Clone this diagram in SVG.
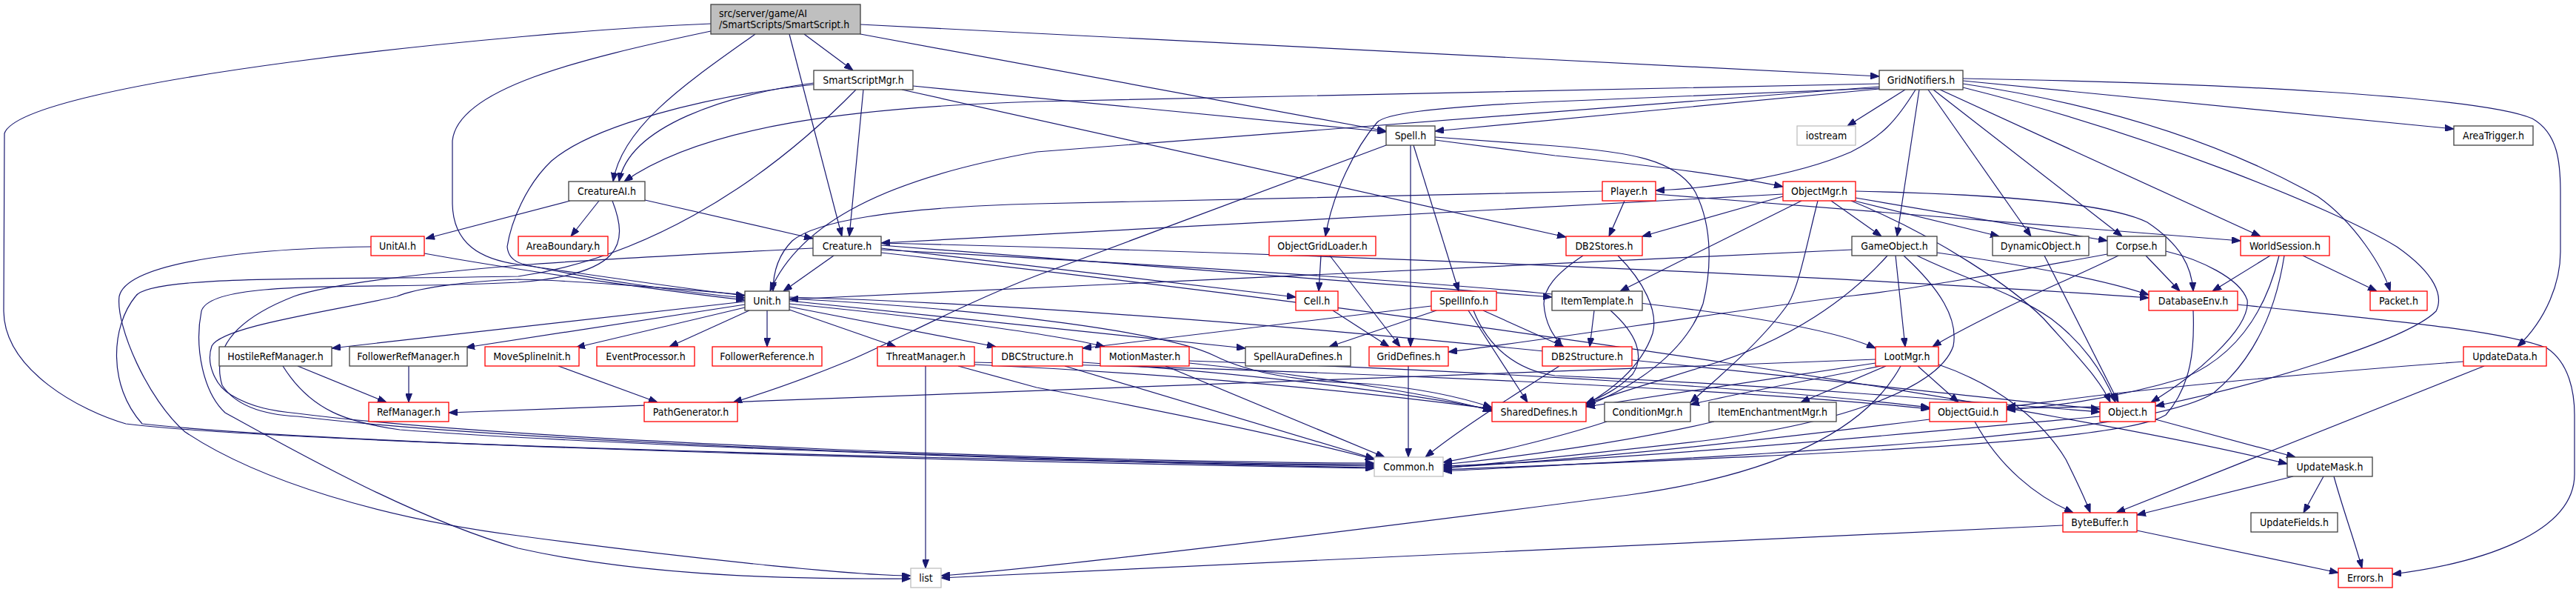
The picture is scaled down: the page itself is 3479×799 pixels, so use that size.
<svg xmlns="http://www.w3.org/2000/svg" width="3479" height="799" viewBox="0 0 3479 799">
<style>
.n rect{fill:#ffffff;stroke-width:1.3}
.b rect{stroke:#404040}
.r rect{stroke:#ff0000}
.g rect{stroke:#bfbfbf}
text{font-family:'DejaVu Sans Condensed','Liberation Sans',Arial,sans-serif;font-size:14px;fill:#000000;text-anchor:middle}
#edges path{fill:none;stroke:#191970;stroke-width:1.2;marker-end:url(#a)}
</style>
<defs>
<marker id="a" viewBox="0 0 12 9" refX="12" refY="4.5" markerWidth="12" markerHeight="9" markerUnits="userSpaceOnUse" orient="auto"><path d="M0,0 L12,4.5 L0,9 z" fill="#191970" stroke="#191970" stroke-width="1"/></marker>
</defs>
<rect width="3479" height="799" fill="#ffffff"/>
<g id="edges">
<path d="M960,32 C700,42 30,110 6,180 L5,420 C6,500 110,555 170,572 C420,602 1500,624 1856,629"/>
<path d="M960,42 C780,80 618,120 611,190 L611,275 C612,330 650,350 700,357 C820,374 940,392 1006,399"/>
<path d="M1020,46 C930,110 840,170 828,245"/>
<path d="M1066,46 L1137,319"/>
<path d="M1086,46 L1152,95"/>
<path d="M1162,33 L2538,103"/>
<path d="M1162,46 L1872,177"/>
<path d="M1099,112 C980,128 850,170 836,245"/>
<path d="M1099,114 C950,130 800,170 745,217 C710,250 690,300 685,333 C686,345 692,352 705,356 C800,378 940,396 1006,402"/>
<path d="M1166,121 L1147,319"/>
<path d="M1233,116 L1872,178"/>
<path d="M1218,121 L2115,320"/>
<path d="M1156,121 C1020,260 860,350 700,373 C450,378 200,370 183,400 C150,440 145,520 192,572 C500,605 1500,626 1856,632"/>
<path d="M770,271 L575,322"/>
<path d="M809,271 L771,319"/>
<path d="M871,270 L1098,322"/>
<path d="M827,271 C850,330 840,370 700,381 C500,392 285,375 272,420 C262,470 275,530 304,557 C400,610 560,700 700,740 C900,785 1150,781 1230,781"/>
<path d="M573,342 C700,365 900,393 1006,405"/>
<path d="M501,333 C300,336 170,360 161,400 C156,440 200,540 250,583 C350,650 520,700 700,723 C900,750 1150,777 1230,777"/>
<path d="M1098,335 C900,345 780,352 700,358 C560,370 440,385 397,400 C320,430 285,470 300,520 C320,550 360,560 402,562 C700,598 1500,626 1856,627"/>
<path d="M1006,398 C900,388 760,378 700,377 C620,380 560,390 536,400 C450,420 300,440 286,467 C278,490 290,520 312,533 C340,550 370,555 402,558 C700,596 1500,625 1856,625"/>
<path d="M1126,345 L1058,393"/>
<path d="M1190,335 L1750,401"/>
<path d="M1190,331 L2096,401"/>
<path d="M1190,337 C1900,375 2400,410 2533,470"/>
<path d="M1190,328 C1900,345 2600,380 2902,402"/>
<path d="M1190,341 C2000,430 2800,555 3089,626"/>
<path d="M1006,407 L448,470"/>
<path d="M1006,411 L629,469"/>
<path d="M1006,415 L778,469"/>
<path d="M1012,419 L904,468"/>
<path d="M1036,419 L1036,468"/>
<path d="M1066,418 L1210,468"/>
<path d="M1066,414 L1345,468"/>
<path d="M1066,410 C1250,428 1420,450 1492,468"/>
<path d="M1066,406 L1682,470"/>
<path d="M1066,403 C1350,418 1580,450 1640,480 C1690,505 1760,515 1846,518 C1930,525 1985,540 2015,550"/>
<path d="M1066,401 C1700,420 2450,515 2836,552"/>
<path d="M402,494 L522,543"/>
<path d="M382,494 C420,555 470,570 540,580 C800,600 1500,625 1856,631"/>
<path d="M552,494 L552,543"/>
<path d="M754,494 L888,543"/>
<path d="M1250,494 L1250,767"/>
<path d="M1294,494 L1400,523 C1600,560 1760,595 1856,620"/>
<path d="M1316,492 C1600,505 1850,530 2015,552"/>
<path d="M1316,489 C1800,500 2350,525 2606,552"/>
<path d="M1438,494 L1856,619"/>
<path d="M1462,489 C1700,505 1900,530 2015,553"/>
<path d="M1574,494 L1870,617"/>
<path d="M1606,490 C1800,510 1950,535 2015,555"/>
<path d="M1606,487 C2000,500 2400,525 2606,550"/>
<path d="M1872,196 L1400,372 C1300,410 1200,465 1146,487 C1090,510 1040,528 990,543"/>
<path d="M1905,196 L1905,468"/>
<path d="M1909,196 L1970,393"/>
<path d="M1938,189 L2100,210 C2250,225 2350,240 2408,252"/>
<path d="M1938,185 L2100,197 C2200,205 2265,215 2290,260 C2315,310 2310,370 2300,410 C2275,480 2200,525 2142,548"/>
<path d="M1940,419 L1795,468"/>
<path d="M1933,413 L1462,470"/>
<path d="M1983,419 L2063,543"/>
<path d="M2003,419 L2112,468"/>
<path d="M1990,419 C2010,470 2050,500 2100,507 C2400,520 2700,545 2836,556"/>
<path d="M1784,345 L1781,393"/>
<path d="M1796,345 L1891,468"/>
<path d="M1800,419 L1876,468"/>
<path d="M1902,494 L1902,617"/>
<path d="M2573,121 L2495,170"/>
<path d="M2587,121 C2560,165 2540,185 2500,205 C2420,240 2300,255 2236,257"/>
<path d="M2592,121 L2562,319"/>
<path d="M2604,121 L2743,319"/>
<path d="M2611,121 L2866,319"/>
<path d="M2620,121 L3053,319"/>
<path d="M2651,113 C2900,150 3050,220 3130,265 C3180,300 3218,360 3228,393"/>
<path d="M2651,118 C2900,180 3150,280 3237,333 C3290,370 3300,400 3290,420 C3250,460 3050,520 2911,548"/>
<path d="M2651,109 L3314,174"/>
<path d="M2651,106 C3000,112 3350,130 3420,160 C3455,180 3458,220 3458,260 L3458,340 C3458,380 3440,430 3400,468"/>
<path d="M2538,113 L1400,137 C1150,145 950,170 843,245"/>
<path d="M2538,117 L1400,205 C1200,240 1080,300 1040,393"/>
<path d="M2538,119 L2100,137 C1920,145 1870,155 1860,165 C1830,200 1800,260 1790,319"/>
<path d="M2538,120 C2300,142 2100,160 1938,177"/>
<path d="M2164,258 L1400,275 C1200,280 1100,300 1070,325 C1050,345 1044,370 1044,393"/>
<path d="M2194,271 L2173,319"/>
<path d="M2236,262 L3026,325"/>
<path d="M2408,262 L1190,328"/>
<path d="M2408,265 L2218,319"/>
<path d="M2473,271 L2541,319"/>
<path d="M2504,271 L2700,319"/>
<path d="M2506,267 L2846,325"/>
<path d="M2506,258 C2700,262 2850,275 2900,300 C2945,330 2960,360 2962,393"/>
<path d="M2433,271 L2188,393"/>
<path d="M2455,271 C2440,330 2430,385 2415,410 C2380,460 2320,510 2283,543"/>
<path d="M2500,271 C2620,320 2720,390 2760,430 C2800,475 2835,510 2850,543"/>
<path d="M2138,345 C2100,370 2085,390 2085,410 C2087,440 2100,455 2110,468"/>
<path d="M2185,345 C2220,380 2240,420 2232,450 C2215,500 2170,530 2142,546"/>
<path d="M2153,419 L2147,468"/>
<path d="M2175,419 C2210,450 2222,480 2205,505 C2185,525 2165,535 2142,544"/>
<path d="M2106,494 C2050,530 1970,580 1925,617"/>
<path d="M2501,337 L1066,404"/>
<path d="M2560,345 L2573,468"/>
<path d="M2589,345 C2650,375 2720,395 2770,430 C2810,460 2840,500 2857,543"/>
<path d="M2616,341 C2750,360 2850,380 2902,398"/>
<path d="M2549,345 C2500,400 2420,460 2300,495 C2220,520 2170,535 2142,545"/>
<path d="M2571,345 C2620,390 2645,430 2638,467 C2620,520 2500,570 2300,595 C2100,618 2000,627 1949,632"/>
<path d="M2761,345 L2861,543"/>
<path d="M2925,339 C2970,350 3025,375 3035,405 C3040,445 2960,510 2905,543"/>
<path d="M2898,345 L2944,393"/>
<path d="M2861,345 C2810,370 2750,395 2700,420 C2660,440 2630,455 2610,468"/>
<path d="M2846,343 C2700,370 2550,395 2493,400 C2300,425 2100,457 1956,475"/>
<path d="M3066,345 L2988,393"/>
<path d="M3110,345 L3210,393"/>
<path d="M3085,345 C3075,410 3050,480 2990,530 C2900,590 2400,612 1949,636"/>
<path d="M3078,345 C3060,420 3020,480 2950,510 C2850,540 2760,550 2710,553"/>
<path d="M2962,419 C2964,470 2960,520 2925,560 C2860,600 2400,615 1949,634"/>
<path d="M3022,411 C3200,430 3380,445 3440,470 C3470,490 3477,530 3477,560 L3477,640 C3477,720 3350,760 3231,775"/>
<path d="M2911,566 L3100,617"/>
<path d="M2836,562 C2500,592 2200,620 1949,629"/>
<path d="M2836,549 L2710,551"/>
<path d="M3327,488 C3100,505 2900,525 2800,538 C2760,543 2730,547 2710,549"/>
<path d="M3355,494 L2858,692"/>
<path d="M3097,643 L2886,695"/>
<path d="M3138,643 L3111,692"/>
<path d="M3152,643 C3165,690 3180,730 3190,767"/>
<path d="M2886,716 L3158,773"/>
<path d="M2786,709 L1271,780"/>
<path d="M2667,569 C2700,630 2750,670 2800,692"/>
<path d="M2606,566 C2400,592 2150,620 1949,631"/>
<path d="M2533,485 L606,557"/>
<path d="M2590,494 L2645,543"/>
<path d="M2533,490 L2142,549"/>
<path d="M2540,494 C2450,512 2350,530 2283,546"/>
<path d="M2547,494 L2432,543"/>
<path d="M2618,492 C2700,520 2760,570 2790,620 C2805,650 2815,670 2823,692"/>
<path d="M2567,494 C2520,580 2400,640 2200,668 C1800,720 1400,768 1271,777"/>
<path d="M2170,569 C2100,592 2000,615 1949,624"/>
<path d="M2315,569 C2200,596 2050,617 1949,627"/>
</g>
<g id="SmartScript" class="n b"><rect x="960" y="6" width="202" height="40" style="fill:#bfbfbf"/><text x="971" y="23" style="text-anchor:start">src/server/game/AI</text><text x="971" y="38" style="text-anchor:start">/SmartScripts/SmartScript.h</text></g>
<g id="SmartScriptMgr" class="n b"><rect x="1099" y="95" width="134" height="26"/><text x="1166" y="113">SmartScriptMgr.h</text></g>
<g id="GridNotifiers" class="n b"><rect x="2538" y="95" width="113" height="26"/><text x="2594.5" y="113">GridNotifiers.h</text></g>
<g id="Spell" class="n b"><rect x="1872" y="170" width="66" height="26"/><text x="1905" y="188">Spell.h</text></g>
<g id="iostream" class="n g"><rect x="2427" y="170" width="79" height="26"/><text x="2466.5" y="188">iostream</text></g>
<g id="AreaTrigger" class="n b"><rect x="3314" y="170" width="107" height="26"/><text x="3367.5" y="188">AreaTrigger.h</text></g>
<g id="CreatureAI" class="n b"><rect x="768" y="245" width="103" height="26"/><text x="819.5" y="263">CreatureAI.h</text></g>
<g id="Player" class="n r"><rect x="2164" y="245" width="72" height="26"/><text x="2200" y="263">Player.h</text></g>
<g id="ObjectMgr" class="n r"><rect x="2408" y="245" width="98" height="26"/><text x="2457" y="263">ObjectMgr.h</text></g>
<g id="UnitAI" class="n r"><rect x="501" y="319" width="72" height="26"/><text x="537" y="337">UnitAI.h</text></g>
<g id="AreaBoundary" class="n r"><rect x="700" y="319" width="121" height="26"/><text x="760.5" y="337">AreaBoundary.h</text></g>
<g id="Creature" class="n b"><rect x="1098" y="319" width="92" height="26"/><text x="1144" y="337">Creature.h</text></g>
<g id="ObjectGridLoader" class="n r"><rect x="1714" y="319" width="144" height="26"/><text x="1786" y="337">ObjectGridLoader.h</text></g>
<g id="DB2Stores" class="n r"><rect x="2115" y="319" width="103" height="26"/><text x="2166.5" y="337">DB2Stores.h</text></g>
<g id="GameObject" class="n b"><rect x="2501" y="319" width="115" height="26"/><text x="2558.5" y="337">GameObject.h</text></g>
<g id="DynamicObject" class="n b"><rect x="2691" y="319" width="130" height="26"/><text x="2756" y="337">DynamicObject.h</text></g>
<g id="Corpse" class="n b"><rect x="2846" y="319" width="79" height="26"/><text x="2885.5" y="337">Corpse.h</text></g>
<g id="WorldSession" class="n r"><rect x="3026" y="319" width="120" height="26"/><text x="3086" y="337">WorldSession.h</text></g>
<g id="Unit" class="n b"><rect x="1006" y="393" width="60" height="26"/><text x="1036" y="411">Unit.h</text></g>
<g id="Cell" class="n r"><rect x="1750" y="393" width="57" height="26"/><text x="1778.5" y="411">Cell.h</text></g>
<g id="SpellInfo" class="n r"><rect x="1933" y="393" width="88" height="26"/><text x="1977" y="411">SpellInfo.h</text></g>
<g id="ItemTemplate" class="n b"><rect x="2096" y="393" width="122" height="26"/><text x="2157" y="411">ItemTemplate.h</text></g>
<g id="DatabaseEnv" class="n r"><rect x="2902" y="393" width="120" height="26"/><text x="2962" y="411">DatabaseEnv.h</text></g>
<g id="Packet" class="n r"><rect x="3201" y="393" width="77" height="26"/><text x="3239.5" y="411">Packet.h</text></g>
<g id="HostileRefManager" class="n b"><rect x="296" y="468" width="152" height="26"/><text x="372" y="486">HostileRefManager.h</text></g>
<g id="FollowerRefManager" class="n b"><rect x="472" y="468" width="159" height="26"/><text x="551.5" y="486">FollowerRefManager.h</text></g>
<g id="MoveSplineInit" class="n r"><rect x="655" y="468" width="127" height="26"/><text x="718.5" y="486">MoveSplineInit.h</text></g>
<g id="EventProcessor" class="n r"><rect x="806" y="468" width="132" height="26"/><text x="872" y="486">EventProcessor.h</text></g>
<g id="FollowerReference" class="n r"><rect x="962" y="468" width="148" height="26"/><text x="1036" y="486">FollowerReference.h</text></g>
<g id="ThreatManager" class="n r"><rect x="1185" y="468" width="131" height="26"/><text x="1250.5" y="486">ThreatManager.h</text></g>
<g id="DBCStructure" class="n r"><rect x="1340" y="468" width="122" height="26"/><text x="1401" y="486">DBCStructure.h</text></g>
<g id="MotionMaster" class="n r"><rect x="1486" y="468" width="120" height="26"/><text x="1546" y="486">MotionMaster.h</text></g>
<g id="SpellAuraDefines" class="n b"><rect x="1682" y="468" width="142" height="26"/><text x="1753" y="486">SpellAuraDefines.h</text></g>
<g id="GridDefines" class="n r"><rect x="1849" y="468" width="107" height="26"/><text x="1902.5" y="486">GridDefines.h</text></g>
<g id="DB2Structure" class="n r"><rect x="2083" y="468" width="121" height="26"/><text x="2143.5" y="486">DB2Structure.h</text></g>
<g id="LootMgr" class="n r"><rect x="2533" y="468" width="85" height="26"/><text x="2575.5" y="486">LootMgr.h</text></g>
<g id="UpdateData" class="n r"><rect x="3327" y="468" width="112" height="26"/><text x="3383" y="486">UpdateData.h</text></g>
<g id="RefManager" class="n r"><rect x="498" y="543" width="108" height="26"/><text x="552" y="561">RefManager.h</text></g>
<g id="PathGenerator" class="n r"><rect x="870" y="543" width="126" height="26"/><text x="933" y="561">PathGenerator.h</text></g>
<g id="SharedDefines" class="n r"><rect x="2015" y="543" width="127" height="26"/><text x="2078.5" y="561">SharedDefines.h</text></g>
<g id="ConditionMgr" class="n b"><rect x="2167" y="543" width="116" height="26"/><text x="2225" y="561">ConditionMgr.h</text></g>
<g id="ItemEnchantmentMgr" class="n b"><rect x="2308" y="543" width="172" height="26"/><text x="2394" y="561">ItemEnchantmentMgr.h</text></g>
<g id="ObjectGuid" class="n r"><rect x="2606" y="543" width="104" height="26"/><text x="2658" y="561">ObjectGuid.h</text></g>
<g id="Object" class="n r"><rect x="2836" y="543" width="75" height="26"/><text x="2873.5" y="561">Object.h</text></g>
<g id="Common" class="n g"><rect x="1856" y="617" width="93" height="26"/><text x="1902.5" y="635">Common.h</text></g>
<g id="UpdateMask" class="n b"><rect x="3089" y="617" width="115" height="26"/><text x="3146.5" y="635">UpdateMask.h</text></g>
<g id="ByteBuffer" class="n r"><rect x="2786" y="692" width="100" height="26"/><text x="2836" y="710">ByteBuffer.h</text></g>
<g id="UpdateFields" class="n b"><rect x="3040" y="692" width="117" height="26"/><text x="3098.5" y="710">UpdateFields.h</text></g>
<g id="list" class="n g"><rect x="1230" y="767" width="41" height="26"/><text x="1250.5" y="785">list</text></g>
<g id="Errors" class="n r"><rect x="3158" y="767" width="73" height="26"/><text x="3194.5" y="785">Errors.h</text></g>
</svg>
